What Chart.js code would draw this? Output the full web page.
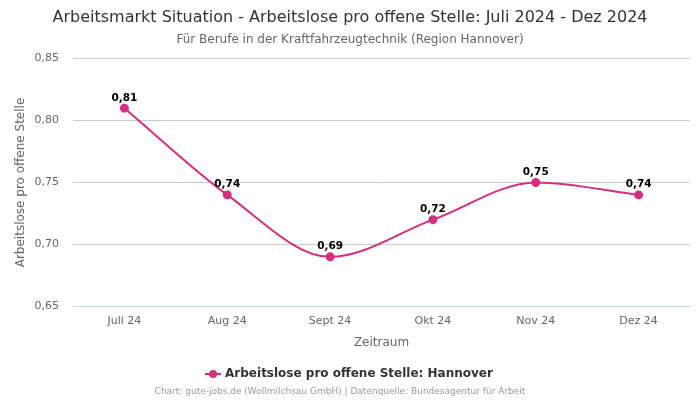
<!DOCTYPE html>
<html><head><meta charset="utf-8">
<script src="https://cdn.jsdelivr.net/npm/chart.js@4"></script>
<style>html,body{margin:0;padding:0;background:#fff}#wrap{width:700px;height:400px;position:relative}</style>
</head><body><div id="wrap"><canvas id="c"></canvas></div>
<script>
const categories = ['Juli 24','Aug 24','Sept 24','Okt 24','Nov 24','Dez 24'];
const values = [0.81, 0.74, 0.69, 0.72, 0.75, 0.74];
const seriesName = 'Arbeitslose pro offene Stelle: Hannover';
const yTicks = [0.65, 0.70, 0.75, 0.80, 0.85];
const fmt = v => v.toFixed(2).replace('.', ',');
const FONT = "'DejaVu Sans', sans-serif";
const color = '#d62f7f';

// legend marker: short line with a dot
const marker = document.createElement('canvas');
marker.width = 16; marker.height = 10;
(() => {
  const m = marker.getContext('2d');
  m.strokeStyle = color; m.lineWidth = 2;
  m.beginPath(); m.moveTo(0, 5); m.lineTo(16, 5); m.stroke();
  m.fillStyle = color; m.beginPath(); m.arc(8, 5, 4, 0, Math.PI * 2); m.fill();
})();

const labelPlugin = {
  id: 'valLabels',
  afterDatasetsDraw(chart) {
    const ctx = chart.ctx;
    const meta = chart.getDatasetMeta(0);
    ctx.save();
    ctx.font = "bold 10.5px " + FONT;
    ctx.fillStyle = '#000';
    ctx.textAlign = 'center';
    ctx.textBaseline = 'bottom';
    meta.data.forEach((pt, i) => {
      ctx.fillText(fmt(values[i]), pt.x, pt.y - 5);
    });
    ctx.restore();
  }
};

new Chart(document.getElementById('c'), {
  type: 'line',
  data: {
    labels: categories,
    datasets: [{
      label: seriesName,
      data: values,
      borderColor: color,
      backgroundColor: color,
      borderWidth: 2,
      pointRadius: 3.5,
      pointHoverRadius: 3.5,
      pointStyle: 'circle',
      cubicInterpolationMode: 'monotone',
      fill: false
    }]
  },
  options: {
    responsive: true,
    maintainAspectRatio: false,
    animation: false,
    layout: { padding: { left: 10, right: 10, top: 0, bottom: 10 } },
    plugins: {
      title: { display: true, text: 'Arbeitsmarkt Situation - Arbeitslose pro offene Stelle: Juli 2024 - Dez 2024',
        color: '#333', font: { family: FONT, size: 16, weight: 'normal' }, padding: { top: 8, bottom: 5 } },
      subtitle: { display: true, text: 'Für Berufe in der Kraftfahrzeugtechnik (Region Hannover)',
        color: '#666', font: { family: FONT, size: 12 }, padding: { bottom: 12 } },
      legend: { position: 'bottom', labels: { color: '#333', font: { family: FONT, size: 12, weight: 'bold' },
        usePointStyle: true, boxWidth: 16, padding: 10,
        generateLabels: chart => [{ text: seriesName, pointStyle: marker, fillStyle: color, strokeStyle: color,
          lineWidth: 0, fontColor: '#333', datasetIndex: 0, hidden: false }] } },
      tooltip: { enabled: false }
    },
    scales: {
      x: {
        offset: true,
        grid: { display: false, drawTicks: false },
        border: { display: true, color: '#ccd6eb' },
        ticks: { color: '#666', font: { family: FONT, size: 11 }, padding: 8 },
        title: { display: true, text: 'Zeitraum', color: '#666', font: { family: FONT, size: 12 }, padding: { top: 0, bottom: 8 } }
      },
      y: {
        min: 0.65, max: 0.85,
        afterBuildTicks: axis => { axis.ticks = yTicks.map(v => ({ value: v })); },
        afterFit: axis => { axis.width = 63; },
        grid: { color: '#cccccc', drawTicks: false },
        border: { display: false },
        ticks: { color: '#666', font: { family: FONT, size: 11 }, padding: 14, callback: v => fmt(v) },
        title: { display: true, text: 'Arbeitslose pro offene Stelle', color: '#666', font: { family: FONT, size: 12 } }
      }
    }
  },
  plugins: [labelPlugin, {
    id: 'footer',
    afterDraw(chart) {
      const ctx = chart.ctx;
      ctx.save();
      ctx.font = "9px " + FONT;
      ctx.fillStyle = '#999';
      ctx.textAlign = 'center';
      ctx.textBaseline = 'middle';
      ctx.fillText('Chart: gute-jobs.de (Wollmilchsau GmbH) | Datenquelle: Bundesagentur für Arbeit', 340, 392);
      ctx.restore();
    }
  }]
});
</script></body></html>
